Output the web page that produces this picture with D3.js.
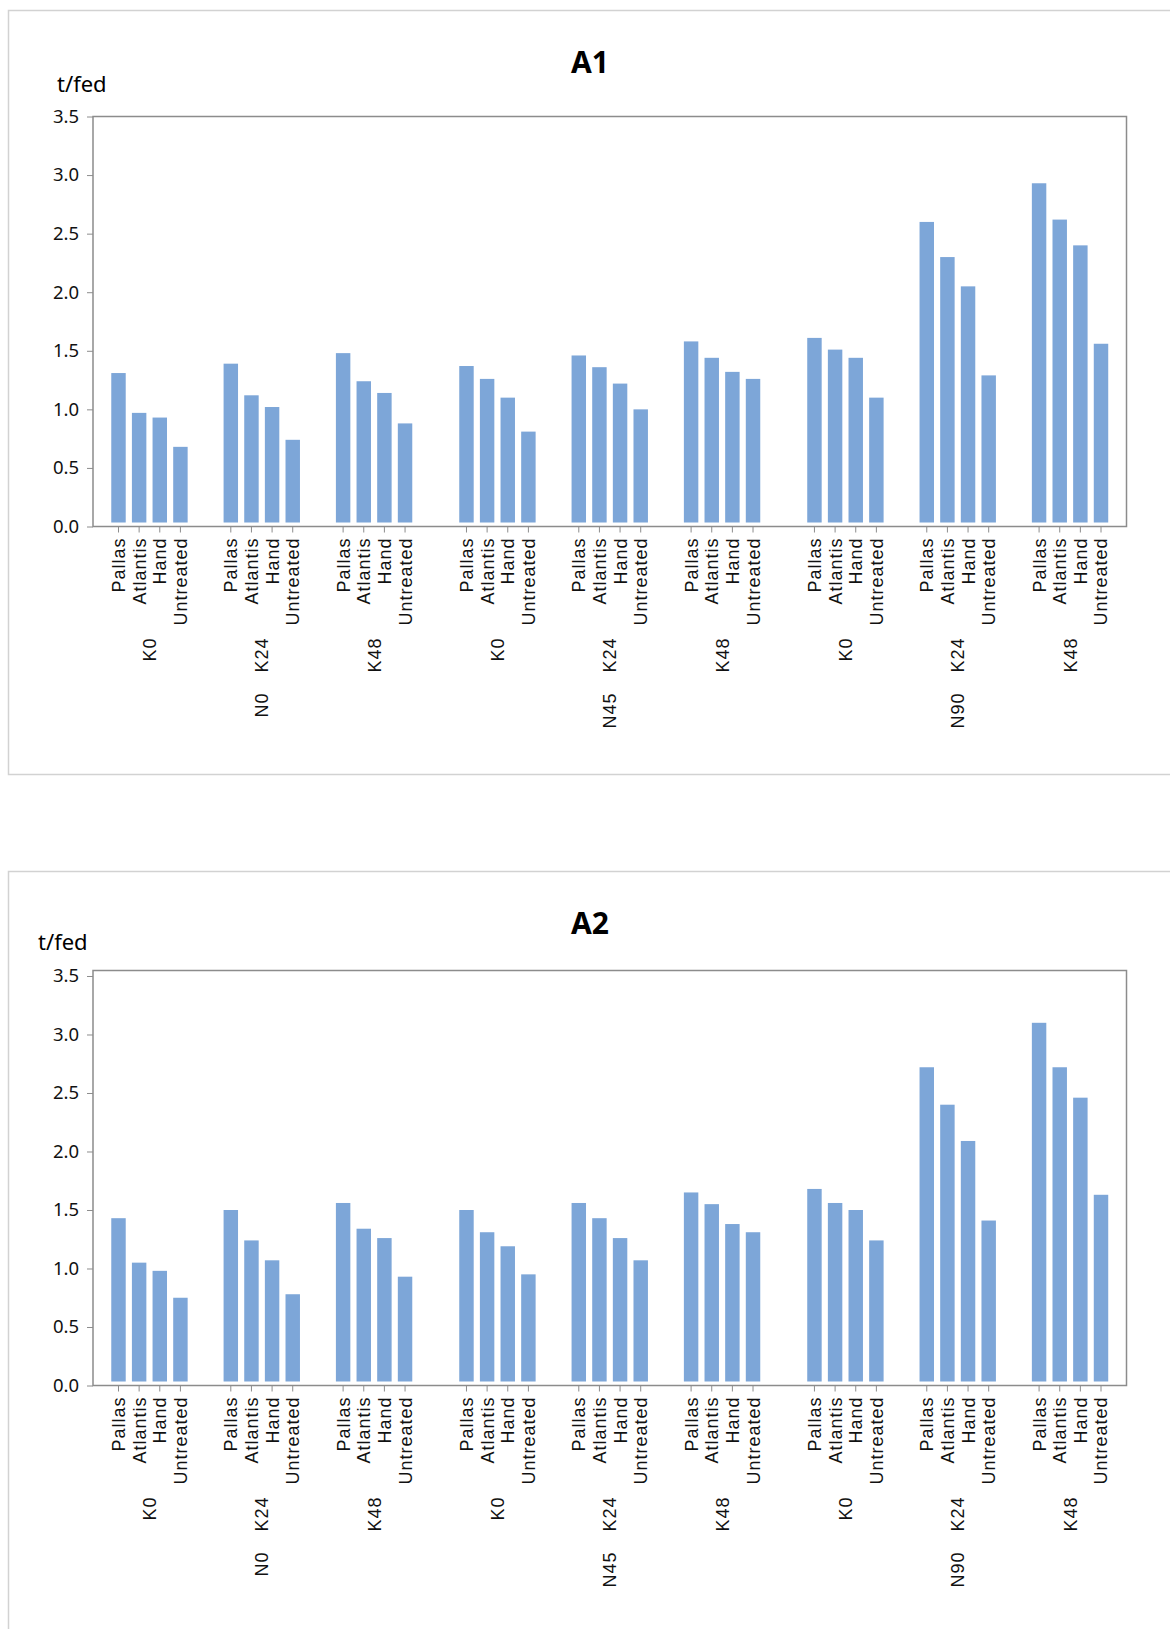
<!DOCTYPE html>
<html>
<head>
<meta charset="utf-8">
<script src="https://cdn.jsdelivr.net/npm/d3@7"></script>
<style>
  body { margin: 0; background: #fff; }
  svg { display: block; }
</style>
</head>
<body>
<svg id="mainsvg" width="1170" height="1629"></svg>
<script>
const nLevels = ["N0", "N45", "N90"];
const kLevels = ["K0", "K24", "K48"];
const treatments = ["Pallas", "Atlantis", "Hand", "Untreated"];
const yTicks = [0, 0.5, 1.0, 1.5, 2.0, 2.5, 3.0, 3.5];

// order: N0 K0, N0 K24, N0 K48, N45 K0 ... ; inside each: Pallas, Atlantis, Hand, Untreated
const a1Values = [
  1.31, 0.97, 0.93, 0.68,
  1.39, 1.12, 1.02, 0.74,
  1.48, 1.24, 1.14, 0.88,
  1.37, 1.26, 1.10, 0.81,
  1.46, 1.36, 1.22, 1.00,
  1.58, 1.44, 1.32, 1.26,
  1.61, 1.51, 1.44, 1.10,
  2.60, 2.30, 2.05, 1.29,
  2.93, 2.62, 2.40, 1.56
];
const a2Values = [
  1.43, 1.05, 0.98, 0.75,
  1.50, 1.24, 1.07, 0.78,
  1.56, 1.34, 1.26, 0.93,
  1.50, 1.31, 1.19, 0.95,
  1.56, 1.43, 1.26, 1.07,
  1.65, 1.55, 1.38, 1.31,
  1.68, 1.56, 1.50, 1.24,
  2.72, 2.40, 2.09, 1.41,
  3.10, 2.72, 2.46, 1.63
];

const svg = d3.select('#mainsvg');
const left = 93, right = 1126.5;
const barColor = "#7DA6D8";
const frameColor = "#8c8c8c";

const x0 = d3.scaleBand().domain(nLevels).range([left, right])
  .paddingInner(0.135).paddingOuter(0.0525);
const x1 = d3.scaleBand().domain(kLevels).range([0, x0.bandwidth()])
  .paddingInner(0.32).paddingOuter(0);
const x2 = d3.scaleBand().domain(treatments).range([0, x1.bandwidth()])
  .paddingInner(0.3).paddingOuter(0);

const toRows = values => {
  const rows = [];
  nLevels.forEach((n, i) => kLevels.forEach((k, j) => treatments.forEach((t, m) => {
    rows.push({ n, k, t, v: values[i * 12 + j * 4 + m] });
  })));
  return rows;
};
const barX = d => x0(d.n) + x1(d.k) + x2(d.t);

const render = function (cfg) {
  const data = toRows(cfg.values);
  const g = svg.append('g');

  g.append('rect')
    .attr('x', 8.5).attr('y', cfg.panelTop + 0.5)
    .attr('width', 1300).attr('height', cfg.panelBottom - cfg.panelTop)
    .attr('fill', 'none').attr('stroke', '#d2d2d2').attr('stroke-width', 1.5);

  const y = d3.scaleLinear().domain([0, cfg.yMax]).range([cfg.y0, cfg.yTop]);

  g.append('text')
    .attr('x', 590).attr('y', cfg.titleY)
    .attr('text-anchor', 'middle')
    .style('font-family', '"Noto Sans", sans-serif')
    .style('font-weight', 'bold').style('font-size', '30px')
    .text(cfg.title);

  g.append('text')
    .attr('x', cfg.unitX).attr('y', cfg.unitY)
    .style('font-family', '"Noto Sans", sans-serif')
    .style('font-size', '22px')
    .text('t/fed');

  const yAxis = g.append('g')
    .attr('transform', `translate(${left},0)`)
    .call(d3.axisLeft(y).tickValues(yTicks).tickFormat(d3.format('.1f')).tickSize(6).tickPadding(8));
  yAxis.select('.domain').remove();
  yAxis.selectAll('line').attr('stroke', frameColor);
  yAxis.selectAll('text')
    .style('font-family', '"Noto Sans", sans-serif')
    .style('font-size', '18.5px').attr('fill', '#111');

  g.selectAll('.bar').data(data).join('rect')
    .attr('class', 'bar')
    .attr('x', barX)
    .attr('width', x2.bandwidth())
    .attr('y', d => y(d.v))
    .attr('height', d => y(0) - y(d.v) - 4)
    .attr('fill', barColor);

  g.append('rect')
    .attr('x', left).attr('y', cfg.yTop)
    .attr('width', right - left).attr('height', cfg.y0 - cfg.yTop)
    .attr('fill', 'none').attr('stroke', frameColor).attr('stroke-width', 1.5);

  g.selectAll('.xtick').data(data).join('line')
    .attr('class', 'xtick')
    .attr('x1', d => barX(d) + x2.bandwidth() / 2)
    .attr('x2', d => barX(d) + x2.bandwidth() / 2)
    .attr('y1', cfg.y0).attr('y2', cfg.y0 + 6)
    .attr('stroke', frameColor);

  const labelStyle = sel => sel
    .attr('text-anchor', 'end')
    .attr('dy', '0.36em')
    .style('font-family', '"Liberation Sans", Arial, sans-serif')
    .style('font-size', '18px')
    .style('letter-spacing', '1px')
    .attr('fill', '#111');

  g.selectAll('.tlabel').data(data).join('text')
    .attr('class', 'tlabel')
    .attr('transform', d => `translate(${barX(d) + x2.bandwidth() / 2},${cfg.y0 + 11}) rotate(-90)`)
    .call(labelStyle)
    .text(d => d.t);

  const kData = data.filter(d => d.t === treatments[0]);
  g.selectAll('.klabel').data(kData).join('text')
    .attr('class', 'klabel')
    .attr('transform', d => `translate(${x0(d.n) + x1(d.k) + x1.bandwidth() / 2},${cfg.y0 + 111}) rotate(-90)`)
    .call(labelStyle)
    .text(d => d.k);

  g.selectAll('.nlabel').data(nLevels).join('text')
    .attr('class', 'nlabel')
    .attr('transform', d => `translate(${x0(d) + x0.bandwidth() / 2},${cfg.y0 + 166}) rotate(-90)`)
    .call(labelStyle)
    .text(d => d);
};

render({ title: 'A1', values: a1Values, panelTop: 10, panelBottom: 774,
  titleY: 73, unitX: 57, unitY: 92, yTop: 116.5, y0: 526.5, yMax: 3.5 });
render({ title: 'A2', values: a2Values, panelTop: 871, panelBottom: 1750,
  titleY: 934, unitX: 38, unitY: 949.5, yTop: 970.5, y0: 1385.5, yMax: 3.547 });
</script>
</body>
</html>
